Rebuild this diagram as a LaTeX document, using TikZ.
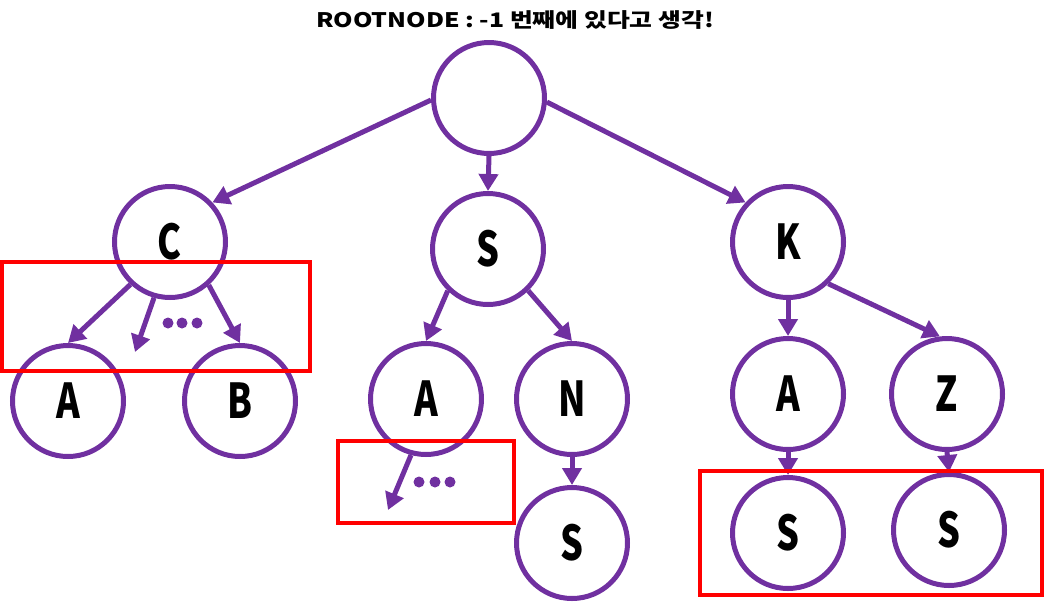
\documentclass[tikz,border=0pt]{standalone}
\usepackage{fontspec}
\setmainfont{Noto Sans CJK KR}
\usetikzlibrary{arrows.meta}
\definecolor{pur}{HTML}{7030A0}
\newcommand\lbl[1]{\scalebox{0.75}[1]{#1}}
\begin{document}
\begin{tikzpicture}[x=1pt,y=-1pt,
 tnode/.style={circle,draw=pur,line width=5pt,minimum size=111pt,inner sep=0pt,font=\fontsize{48}{48}\selectfont\bfseries},
 edge/.style={draw=pur,line width=5pt,-{Triangle[length=17pt,width=19pt]}},
 box/.style={draw=red,line width=3.5pt},
 dotn/.style={circle,fill=pur,inner sep=0pt,minimum size=11pt}]
\useasboundingbox (0,0) rectangle (1044,603);
\node[font=\fontsize{20}{20}\selectfont\bfseries] (title) at (515,20) {\scalebox{1.24}[1]{ROOTNODE : -1 번째에 있다고 생각!}};
\node[tnode] (root) at (489,98) {};
\node[tnode] (c) at (170,242) {\lbl{C}};
\node[tnode] (s1) at (488,249) {\lbl{S}};
\node[tnode] (k) at (788,242) {\lbl{K}};
\node[tnode] (a1) at (68,401) {\lbl{A}};
\node[tnode] (b) at (240,401) {\lbl{B}};
\node[tnode] (a2) at (426,399) {\lbl{A}};
\node[tnode] (n) at (572,399) {\lbl{N}};
\node[tnode] (s2) at (572,543) {\lbl{S}};
\node[tnode] (a3) at (788,394) {\lbl{A}};
\node[tnode] (z) at (947,394) {\lbl{Z}};
\node[tnode] (s3) at (788,533) {\lbl{S}};
\node[tnode] (s4) at (949,530) {\lbl{S}};
\coordinate (cx) at (135,352);
\coordinate (ax) at (388,510);
\foreach \i/\x/\y in {1/168/323,2/182/323,3/197/323,4/419/482,5/435/482,6/450/482}
  \node[dotn] (d\i) at (\x,\y) {};
\draw[edge] (root.182) -- (c.43);
\draw[edge] (root.south) -- (s1.north);
\draw[edge] (root.356) -- (k.137);
\draw[edge] (c.227) -- (a1.north);
\draw[edge] (c.254) -- (cx);
\draw[edge] (c.312) -- (b.north);
\draw[edge] (s1.226) -- (a2.north);
\draw[edge] (s1.314) -- (n.north);
\draw[edge] (a2.255) -- (ax);
\draw[edge] (n.south) -- (s2.north);
\draw[edge] (k.south) -- (a3.north);
\draw[edge] (k.314) -- (z.97);
\draw[edge] (a3.south) -- (s3.north);
\draw[edge] (z.south) -- (s4.north);
\draw[box] (2,262) rectangle (310,371);
\draw[box] (338,441) rectangle (514,523);
\draw[box] (700,471) rectangle (1042,595);
\end{tikzpicture}
\end{document}
